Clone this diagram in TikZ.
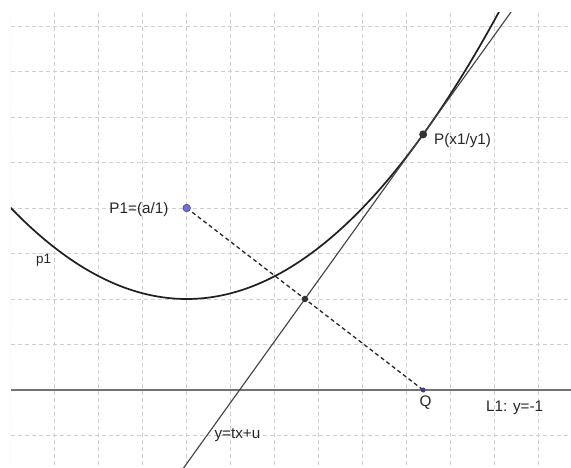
\documentclass[tikz,border=0pt]{standalone}
\usepackage{fontspec}
\setmainfont{Liberation Sans}
\usetikzlibrary{calc}
\definecolor{gridgray}{HTML}{CFCFCF}
\definecolor{ptblue}{HTML}{6E6EE6}
\definecolor{ptblueD}{HTML}{3C3C96}
\tikzset{
  gridline/.style={gridgray, line width=0.9bp, dash pattern=on 4bp off 3bp},
  curveline/.style={black!88, line width=1.7bp},
  tanline/.style={black!75, line width=1.1bp},
  lline/.style={black!55, line width=1.8bp},
  dashline/.style={black!85, line width=1.3bp, dash pattern=on 4bp off 3bp},
  lbl/.style={inner sep=0pt, font=\fontsize{15.3}{18}\selectfont, text=black!85},
  dotdark/.style={circle, fill=black!80, inner sep=0pt, minimum size=8bp},
  dotsmall/.style={circle, fill=black!80, inner sep=0pt, minimum size=6.5bp},
  dotblue/.style={circle, fill=ptblue, draw=black!70, line width=0.6bp, inner sep=0pt, minimum size=7.5bp},
  dotQ/.style={circle, fill=ptblueD, inner sep=0pt, minimum size=5bp}
}
\begin{document}
\begin{tikzpicture}[x=87.9bp, y=91bp]
\useasboundingbox (-186.7bp,-169bp) rectangle (384.3bp,299bp);
\fill[white] (-186.7bp,-169bp) rectangle (384.3bp,299bp);
\coordinate (P1) at (0,1);
\coordinate (P) at (2.69,1.809);
\coordinate (Q) at (2.69,-1);
\coordinate (M) at (1.345,0);
\coordinate (Lleft) at (-2,-1);
\coordinate (Lright) at (4.5,-1);
\begin{scope}
\clip (-2,-1.9) rectangle (4.5,3.143);
\foreach \u in {-2,-1.5,...,4.01} \draw[gridline] (\u,-1.9) -- (\u,3.2);
\foreach \v in {-1.5,-1,...,3.01} \draw[gridline] (-2,\v) -- (4.5,\v);
\draw[lline] (Lleft) -- (Lright);
\draw[curveline] plot[domain=-2.05:3.7, samples=120, smooth] (\x,{\x*\x/4});
\draw[tanline] ($(M)!-2.2!(P)$) -- ($(M)!2.2!(P)$);
\draw[dashline] (P1) -- (Q);
\end{scope}
\node[dotdark] (Pd) at (P) {};
\node[dotsmall] (Md) at (M) {};
\node[dotblue] (P1d) at (P1) {};
\node[dotQ] (Qd) at (Q) {};
\node[lbl, anchor=base west] (Plab) at (247.3bp,154bp) {P(x1/y1)};
\node[lbl, anchor=base west] (P1lab) at (-77.4bp,85.7bp) {P1=(a/1)};
\node[lbl, anchor=base west, font=\fontsize{13.5}{16}\selectfont] (plab) at (-150.7bp,35.7bp) {p1};
\node[lbl, anchor=base] (Qlab) at (238.8bp,-107.5bp) {Q};
\node[lbl, anchor=base west] (Llab) at (299.3bp,-112.7bp) {L1: y=-1};
\node[lbl, anchor=base west] (tlab) at (27.6bp,-139.3bp) {y=tx+u};
\end{tikzpicture}
\end{document}
